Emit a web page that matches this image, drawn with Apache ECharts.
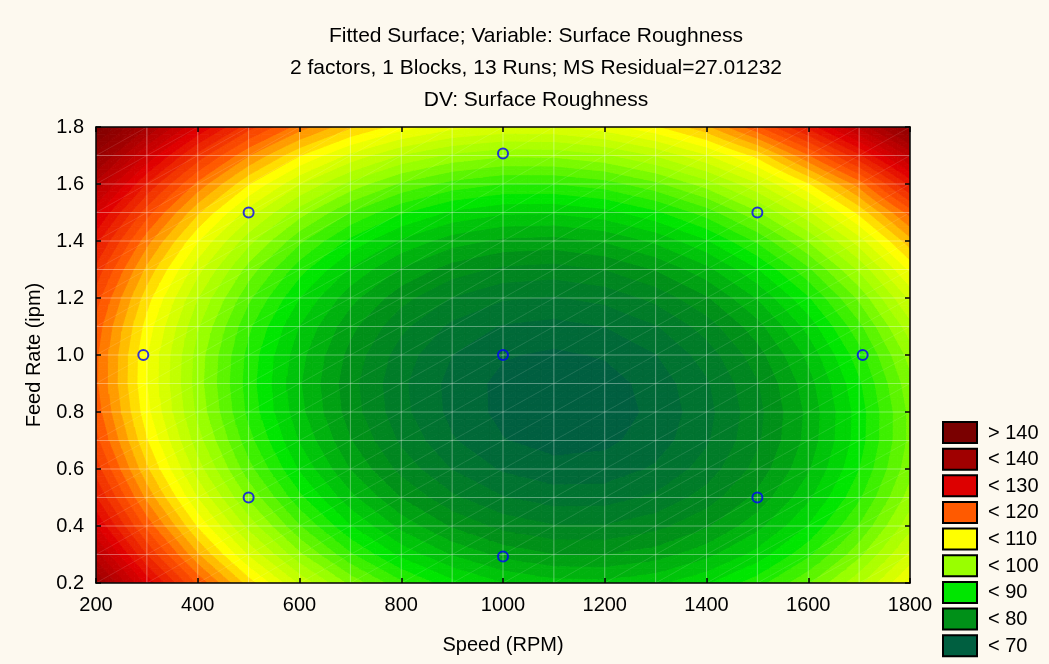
<!DOCTYPE html>
<html>
<head>
<meta charset="utf-8">
<script src="https://cdn.jsdelivr.net/npm/echarts@6/dist/echarts.min.js"></script>
<style>
html,body{margin:0;padding:0;background:#fdf9ef;}
#chart{position:absolute;left:0;top:0;width:1049px;height:664px;}
</style>
</head>
<body>
<div id="chart"></div>
<script>
// ---------- data ----------
const speedValues = [200,300,400,500,600,700,800,900,1000,1100,1200,1300,1400,1500,1600,1700,1800];
const feedValues = [0.2,0.3,0.4,0.5,0.6,0.7,0.8,0.9,1.0,1.1,1.2,1.3,1.4,1.5,1.6,1.7,1.8];
// fitted surface roughness, one row per feed value (0.2 ... 1.8), columns follow speedValues
const roughnessByFeed = [
  [140.3,129.4,119.6,111.0,103.6,97.4,92.4,88.6,86.0,84.7,84.5,85.5,87.7,91.1,95.7,101.5,108.5],
  [134.8,123.9,114.2,105.7,98.4,92.3,87.4,83.8,81.3,80.0,79.9,81.0,83.3,86.8,91.5,97.4,104.5],
  [130.0,119.3,109.7,101.3,94.1,88.1,83.3,79.7,77.3,76.1,76.1,77.3,79.7,83.3,88.1,94.1,101.3],
  [126.1,115.4,105.9,97.6,90.5,84.6,79.9,76.4,74.1,73.0,73.1,74.4,76.9,80.6,85.5,91.6,98.9],
  [123.0,112.3,102.9,94.7,87.7,81.9,77.3,73.9,71.7,70.7,70.9,72.3,74.9,78.7,83.7,89.9,97.3],
  [120.6,110.1,100.8,92.7,85.8,80.1,75.6,72.2,70.1,69.2,69.5,71.0,73.7,77.6,82.7,89.0,96.5],
  [119.1,108.6,99.4,91.4,84.6,79.0,74.6,71.4,69.4,68.5,68.9,70.5,73.3,77.3,82.5,88.9,96.5],
  [118.3,108.0,98.9,91.0,84.2,78.7,74.4,71.3,69.4,68.7,69.1,70.8,73.7,77.8,83.1,89.6,97.3],
  [118.4,108.1,99.1,91.3,84.7,79.3,75.0,72.0,70.2,69.6,70.2,71.9,74.9,79.1,84.5,91.1,98.8],
  [119.2,109.1,100.2,92.4,85.9,80.6,76.5,73.5,71.8,71.3,72.0,73.8,76.9,81.2,86.7,93.4,101.2],
  [120.9,110.8,102.0,94.4,88.0,82.7,78.7,75.9,74.2,73.8,74.6,76.6,79.7,84.1,89.7,96.4,104.4],
  [123.3,113.4,104.7,97.1,90.8,85.7,81.7,79.0,77.5,77.1,78.0,80.1,83.3,87.8,93.5,100.3,108.4],
  [126.6,116.7,108.1,100.7,94.4,89.4,85.6,82.9,81.5,81.2,82.2,84.4,87.7,92.3,98.1,105.0,113.2],
  [130.6,120.9,112.3,105.0,98.9,93.9,90.2,87.6,86.3,86.2,87.2,89.5,92.9,97.6,103.5,110.5,118.8],
  [135.5,125.8,117.4,110.1,104.1,99.3,95.6,93.2,91.9,91.9,93.0,95.4,98.9,103.7,109.7,116.8,126.5],
  [141.1,131.6,123.2,116.1,110.1,105.4,101.8,99.5,98.3,98.4,99.6,102.1,105.7,110.6,117.7,125.5,134.5],
  [147.6,138.1,129.9,122.8,117.0,112.3,108.9,106.6,105.6,105.7,107.1,109.6,113.4,119.5,126.5,134.5,143.0]
];
// experimental runs (central composite design)
const runSpeed = [293,500,500,1000,1000,1000,1500,1500,1707];
const runFeed  = [1.0,0.5,1.5,0.293,1.0,1.707,0.5,1.5,1.0];
// legend
const legendLabels = ['> 140','< 140','< 130','< 120','< 110','< 100','< 90','< 80','< 70'];
const legendColors = ['#7a0000','#a00000','#dd0000','#ff5a00','#ffff00','#99ff00','#00e600','#009018','#005f40'];
// contour colour stops (level -> colour)
const levelValues = [70,80,90,100,110,120,130,140,150];
const levelColors = ['#005f40','#009018','#00e600','#99ff00','#ffff00','#ff5a00','#e00000','#a00000','#780000'];
const titleLines = ['Fitted Surface; Variable: Surface Roughness','2 factors, 1 Blocks, 13 Runs; MS Residual=27.01232','DV: Surface Roughness'];

// ---------- helpers ----------
const FONT = '"Liberation Sans", Arial, sans-serif';
const STEP = 2, LOW = 70, HIGH = 150;
function hex(c){return [parseInt(c.slice(1,3),16),parseInt(c.slice(3,5),16),parseInt(c.slice(5,7),16)];}
const stopRGB = levelColors.map(hex);
function colorFor(v){
  if (v <= levelValues[0]) return levelColors[0];
  if (v >= levelValues[levelValues.length-1]) return levelColors[levelColors.length-1];
  for (let k=0;k<levelValues.length-1;k++){
    if (v <= levelValues[k+1]){
      const t=(v-levelValues[k])/(levelValues[k+1]-levelValues[k]);
      const a=stopRGB[k], b=stopRGB[k+1];
      return 'rgb('+a.map((x,i)=>Math.round(x+(b[i]-x)*t)).join(',')+')';
    }
  }
}
function clip(poly, level, keepAbove){
  const out=[];
  for (let i=0;i<poly.length;i++){
    const A=poly[i], B=poly[(i+1)%poly.length];
    const inA = keepAbove ? A[2]>=level : A[2]<=level;
    const inB = keepAbove ? B[2]>=level : B[2]<=level;
    if (inA) out.push(A);
    if (inA!==inB){
      const t=(level-A[2])/(B[2]-A[2]);
      out.push([A[0]+(B[0]-A[0])*t, A[1]+(B[1]-A[1])*t, level]);
    }
  }
  return out;
}
function triBands(tri, children){
  const fs=tri.map(p=>p[2]);
  const fmin=Math.min(...fs), fmax=Math.max(...fs);
  let L=Math.floor(fmin/STEP)*STEP;
  L=Math.max(LOW-STEP, Math.min(HIGH, L));
  for (; L<=Math.min(fmax,HIGH)+1e-9; L+=STEP){
    let poly=tri;
    if (L>LOW-STEP) poly=clip(poly,L,true);
    if (L<HIGH) poly=clip(poly,L+STEP,false);
    if (poly.length>=3){
      const c=colorFor(L+STEP);
      children.push({type:'polygon',shape:{points:poly.map(p=>[p[0],p[1]])},
        style:{fill:c,stroke:c,lineWidth:0.9}});
    }
  }
}

const cells=[];
for (let j=0;j<feedValues.length-1;j++){
  for (let i=0;i<speedValues.length-1;i++){
    cells.push([speedValues[i],feedValues[j],speedValues[i+1],feedValues[j+1],
      roughnessByFeed[j][i],roughnessByFeed[j][i+1],roughnessByFeed[j+1][i],roughnessByFeed[j+1][i+1]]);
  }
}

function renderContour(params, api){
  const pA=api.coord([api.value(0),api.value(1)]);
  const pB=api.coord([api.value(2),api.value(3)]);
  const z00=api.value(4), z10=api.value(5), z01=api.value(6), z11=api.value(7);
  const K=4, children=[];
  const pt=(a,b)=>[pA[0]+(pB[0]-pA[0])*a, pA[1]+(pB[1]-pA[1])*b,
      z00*(1-a)*(1-b)+z10*a*(1-b)+z01*(1-a)*b+z11*a*b];
  for (let ia=0;ia<K;ia++){
    for (let ib=0;ib<K;ib++){
      const q00=pt(ia/K,ib/K), q10=pt((ia+1)/K,ib/K), q01=pt(ia/K,(ib+1)/K), q11=pt((ia+1)/K,(ib+1)/K);
      triBands([q00,q10,q11],children);
      triBands([q00,q11,q01],children);
    }
  }
  return {type:'group',children};
}
function renderMesh(params, api){
  const pA=api.coord([api.value(0),api.value(1)]);
  const pB=api.coord([api.value(2),api.value(3)]);
  return {type:'group',children:[
    {type:'rect',shape:{x:pA[0],y:pB[1],width:pB[0]-pA[0],height:pA[1]-pB[1]},
      style:{fill:'none',stroke:'rgba(255,255,255,0.2)',lineWidth:1}},
    {type:'line',shape:{x1:pA[0],y1:pA[1],x2:pB[0],y2:pB[1]},
      style:{stroke:'rgba(255,255,255,0.11)',lineWidth:1}}
  ]};
}

const axisCommon = {
  type:'value', z:10,
  axisLine:{show:true,onZero:false,lineStyle:{color:'#000',width:1.5}},
  axisTick:{show:true,inside:true,length:5,lineStyle:{color:'#000',width:1.5}},
  splitLine:{show:false}
};
const labelStyle = {fontSize:20,color:'#000',fontFamily:FONT};

const graphics = [];
titleLines.forEach((t,k)=>{
  graphics.push({type:'text',x:536,y:36+k*32,style:{text:t,align:'center',verticalAlign:'middle',
    fontSize:21,fontFamily:FONT,fill:'#000'}});
});
legendLabels.forEach((t,k)=>{
  const y=422+k*26.65;
  graphics.push({type:'rect',shape:{x:943,y:y,width:34,height:21},
    style:{fill:legendColors[k],stroke:'#000',lineWidth:2}});
  graphics.push({type:'text',x:988,y:y+11,style:{text:t,align:'left',verticalAlign:'middle',
    fontSize:20,fontFamily:FONT,fill:'#000'}});
});

const chart = echarts.init(document.getElementById('chart'), null, {renderer:'canvas'});
chart.setOption({
  animation:false,
  backgroundColor:'#fdf9ef',
  grid:{left:96,top:127,width:814,height:456,containLabel:false},
  xAxis:[
    Object.assign({},axisCommon,{min:200,max:1800,interval:200,position:'bottom',
      axisLabel:Object.assign({margin:12,formatter:v=>String(v)},labelStyle),
      name:'Speed (RPM)',nameLocation:'middle',nameGap:52,nameTextStyle:labelStyle}),
    Object.assign({},axisCommon,{min:200,max:1800,interval:200,position:'top',axisLabel:{show:false}})
  ],
  yAxis:[
    Object.assign({},axisCommon,{min:0.2,max:1.8,interval:0.2,position:'left',
      axisLabel:Object.assign({margin:12,formatter:v=>v.toFixed(1)},labelStyle),
      name:'Feed Rate (ipm)',nameLocation:'middle',nameGap:52,nameTextStyle:labelStyle}),
    Object.assign({},axisCommon,{min:0.2,max:1.8,interval:0.2,position:'right',axisLabel:{show:false}})
  ],
  graphic:graphics,
  series:[
    {type:'custom',name:'Surface Roughness',xAxisIndex:0,yAxisIndex:0,z:1,clip:true,
      dimensions:['x0','y0','x1','y1','z00','z10','z01','z11'],
      encode:{x:[0,2],y:[1,3]},renderItem:renderContour,data:cells,silent:true},
    {type:'custom',name:'mesh',xAxisIndex:0,yAxisIndex:0,z:2,clip:true,
      dimensions:['x0','y0','x1','y1','z00','z10','z01','z11'],
      encode:{x:[0,2],y:[1,3]},renderItem:renderMesh,data:cells,silent:true},
    {type:'scatter',name:'Runs',xAxisIndex:0,yAxisIndex:0,z:3,symbol:'circle',symbolSize:10,
      itemStyle:{color:'rgba(0,0,0,0)',borderColor:'#0000ff',borderWidth:2},
      data:runSpeed.map((s,k)=>[s,runFeed[k]])}
  ]
});
</script>
</body>
</html>
